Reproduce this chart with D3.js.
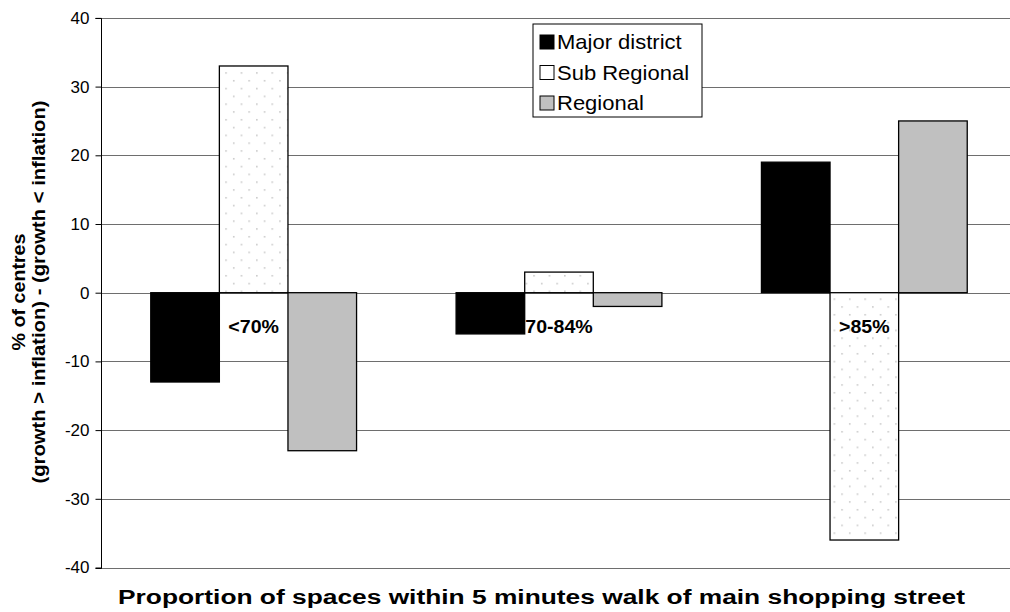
<!DOCTYPE html>
<html><head><meta charset="utf-8">
<script src="https://cdnjs.cloudflare.com/ajax/libs/d3/7.8.5/d3.min.js"></script>
<style>body{margin:0;background:#fff}svg{display:block}text{font-family:"Liberation Sans",Arial,sans-serif}</style>
</head><body><svg id="c" width="1010" height="612"></svg>
<script>
const categories = ["<70%", "70-84%", ">85%"];
const seriesNames = ["Major district", "Sub Regional", "Regional"];
const majorDistrict = [-13, -6, 19];
const subRegional = [33, 3, -36];
const regional = [-23, -2, 25];
const yTicks = [-40, -30, -20, -10, 0, 10, 20, 30, 40];
const yTitle1 = "% of centres";
const yTitle2 = "(growth > inflation) - (growth < inflation)";
const xTitle = "Proportion of spaces within 5 minutes walk of main shopping street";

const values = [majorDistrict, subRegional, regional];
const svg = d3.select("#c");
const L = 101, R = 1017, T = 17.9, B = 567.5;

const defs = svg.append("defs");
const pat = defs.append("pattern").attr("id","dots").attr("patternUnits","userSpaceOnUse")
  .attr("width",15.4).attr("height",15.6);
pat.append("rect").attr("width",15.4).attr("height",15.6).attr("fill","#fff");
pat.append("rect").attr("x",2).attr("y",2).attr("width",1.5).attr("height",1.5).attr("fill","#c4c4c4");
pat.append("rect").attr("x",9.7).attr("y",9.8).attr("width",1.5).attr("height",1.5).attr("fill","#c4c4c4");

const fills = ["#000", "url(#dots)", "#c0c0c0"];

const y = d3.scaleLinear().domain([-40, 40]).range([B, T]);
const x0 = d3.scaleBand().domain(categories).range([L, R]).paddingInner(0.326).paddingOuter(0.163);
const x1 = d3.scaleBand().domain(seriesNames).range([0, x0.bandwidth()]);

// gridlines
svg.append("g").selectAll("line").data(yTicks).join("line")
  .attr("x1", L).attr("x2", R).attr("y1", d => Math.round(y(d))+0.5).attr("y2", d => Math.round(y(d))+0.5)
  .attr("stroke", "#6e6e6e").attr("stroke-width", 1.2);

// y axis
const yAxis = d3.axisLeft(y).tickValues(yTicks).tickSize(6).tickPadding(7).tickFormat(d => String(d));
const ga = svg.append("g").attr("transform", `translate(${L+0.5},0)`).call(yAxis);
ga.select(".domain").attr("stroke","#000").attr("d", `M-6,${Math.round(y(40))+0.5}H0V${Math.round(y(-40))+0.5}H-6`);
ga.selectAll(".tick line").attr("stroke","#000");
ga.selectAll(".tick text").attr("font-size",17).attr("fill","#000")
  .attr("font-family",'"Liberation Sans",Arial,sans-serif').attr("x", -12);

// bars
seriesNames.forEach((s, si) => {
  svg.append("g").selectAll("rect").data(categories).join("rect")
    .attr("x", c => x0(c) + x1(s))
    .attr("width", x1.bandwidth())
    .attr("y", (c, i) => y(Math.max(0, values[si][i])))
    .attr("height", (c, i) => Math.abs(y(values[si][i]) - y(0)))
    .attr("fill", fills[si]).attr("stroke", "#000").attr("stroke-width", 1.3);
});

// category labels
svg.append("g").selectAll("text").data(categories).join("text")
  .attr("transform", c => `translate(${x0(c)+x0.bandwidth()/2},333) scale(1.12,1)`)
  .attr("text-anchor","middle").attr("font-weight","bold").attr("font-size",17.5).text(c => c);

// legend
const lg = svg.append("g");
lg.append("rect").attr("x",533).attr("y",24).attr("width",169).attr("height",93)
  .attr("fill","#fff").attr("stroke","#000").attr("stroke-width",1);
seriesNames.forEach((s, i) => {
  const cy = 42 + i*30.5;
  lg.append("rect").attr("x",540).attr("y",cy-7).attr("width",14).attr("height",14)
    .attr("fill", i===1 ? "#fff" : fills[i]).attr("stroke","#000").attr("stroke-width",1);
  lg.append("text").attr("transform",`translate(557,${cy+7}) scale(1.1,1)`)
    .attr("font-size",20).text(s);
});

// axis titles
svg.append("text").attr("x",541.5).attr("y",604).attr("text-anchor","middle")
  .attr("font-weight","bold").attr("font-size",19.5)
  .attr("textLength",847).attr("lengthAdjust","spacingAndGlyphs").text(xTitle);
const yt = svg.append("g").attr("transform","translate(0,292) rotate(-90)");
yt.append("text").attr("x",0).attr("y",25).attr("text-anchor","middle").attr("font-weight","bold")
  .attr("font-size",18).attr("textLength",117).attr("lengthAdjust","spacingAndGlyphs").text(yTitle1);
yt.append("text").attr("x",0).attr("y",45).attr("text-anchor","middle").attr("font-weight","bold")
  .attr("font-size",18).attr("textLength",383).attr("lengthAdjust","spacingAndGlyphs").text(yTitle2);
</script></body></html>
